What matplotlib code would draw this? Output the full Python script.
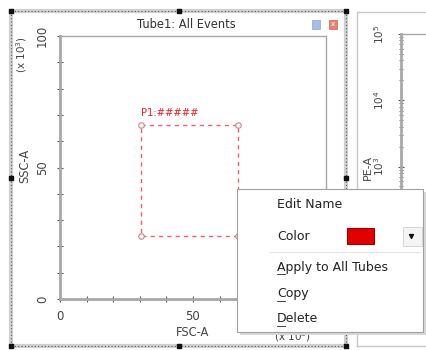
import matplotlib.pyplot as plt
from matplotlib.patches import Rectangle

W, H = 427, 350

# gate P1 (FSC-A, SSC-A in x10^3)
gate_x = [30.5, 66.9, 66.9, 30.5, 30.5]
gate_y = [66.3, 66.3, 23.9, 23.9, 66.3]
gate_name = 'P1:#####'

x_ticks = [0, 10, 20, 30, 40, 50, 60, 70, 80, 90, 100]
x_labels = ['0', '', '', '', '', '50', '', '', '', '', '']
y_ticks = [0, 10, 20, 30, 40, 50, 60, 70, 80, 90, 100]
y_labels = ['0', '', '', '', '', '50', '', '', '', '', '100']

pe_ticks = [1e3, 1e4, 1e5]
pe_labels = ['$10^3$', '$10^4$', '$10^5$']

menu_items = ['Edit Name', 'Color', 'Apply to All Tubes', 'Copy', 'Delete']
menu_rows = [205, 236, 267, 294, 319]
menu_underline = [0, 0, 1, 1, 1]

GRAY = '#a8a8a8'
DARK = '#444444'


def px_axes(fig, l, t, r, b):
    return fig.add_axes([l / W, 1 - b / H, (r - l) / W, (b - t) / H])


fig = plt.figure(figsize=(W / 100, H / 100), dpi=100)

# background layer in pixel coords
bg = fig.add_axes([0, 0, 1, 1], zorder=0)
bg.set_xlim(0, W)
bg.set_ylim(H, 0)
bg.axis('off')

# outer dotted selection frame
for xs, ys in [([11, 346], [11, 11]), ([11, 346], [346, 346]),
               ([11, 11], [11, 346]), ([346, 346], [11, 346])]:
    bg.plot(xs, ys, color='#d0d0d0', lw=3, solid_capstyle='butt')
    bg.plot(xs, ys, color='#555555', lw=0.8, ls=(0, (1, 2)))
hx = [11, 179, 346, 11, 346, 11, 179, 346]
hy = [11, 11, 11, 178, 178, 346, 346, 346]
bg.scatter(hx, hy, marker='s', s=8, color='#111111', zorder=5)

# right panel frame
bg.plot([357, 357, W], [346, 12, 12], color='#c8c8c8', lw=1)
bg.plot([357, W], [346, 346], color='#c8c8c8', lw=1)

bg.text(186, 25, 'Tube1: All Events', fontsize=8.3, ha='center', va='center', color='#333333')
bg.add_patch(Rectangle((312, 20), 8, 9, facecolor='#a9bce4', edgecolor='#8fa3d0', lw=0.5))
bg.add_patch(Rectangle((329, 20), 8, 9, facecolor='#e58470', edgecolor='#d0604c', lw=0.5))
bg.text(333, 24.5, 'x', fontsize=5, color='white', ha='center', va='center')

bg.text(22, 55, '(x 10$^3$)', fontsize=7.5, rotation=90, ha='center', va='center', color=DARK)
bg.text(25, 166, 'SSC-A', fontsize=8.3, rotation=90, ha='center', va='center', color=DARK)
bg.text(193, 333, 'FSC-A', fontsize=8.3, ha='center', va='center', color=DARK)
bg.text(292, 337, '(x 10$^3$)', fontsize=7.5, ha='center', va='center', color=DARK)
bg.text(368, 167, 'PE-A', fontsize=8, rotation=90, ha='center', va='center', color=DARK)

# main dot plot
ax = px_axes(fig, 60, 36, 326, 299)
ax.set_zorder(1)
ax.set_xlim(0, 100)
ax.set_ylim(0, 100)
ax.set_xticks(x_ticks)
ax.set_xticklabels(x_labels)
ax.set_yticks(y_ticks)
ax.set_yticklabels(y_labels, rotation=90, va='center')
ax.tick_params(direction='inout', length=4, width=0.8, color='#555555',
               labelsize=8.5, labelcolor=DARK, pad=6)
for side, sp in ax.spines.items():
    sp.set_color(GRAY)
    sp.set_linewidth(2 if side in ('left', 'bottom') else 1)

ax.plot(gate_x, gate_y, color='#f06070', lw=1, ls=(0, (3, 3)))
ax.scatter(gate_x[:4], gate_y[:4], s=16, facecolor='#f4f4f4', edgecolor='#c09090', lw=0.8, zorder=4)
ax.text(gate_x[0], gate_y[0] + 2.5, gate_name, color='#e8202a', fontsize=7.2, va='bottom', ha='left')

# partial PE-A panel on the right
ax2 = px_axes(fig, 401, 34, 460, 299)
ax2.set_zorder(1)
ax2.set_yscale('log')
ax2.set_ylim(1e1, 1e5)
ax2.set_xticks([])
ax2.set_yticks(pe_ticks)
ax2.set_yticklabels(pe_labels, rotation=90, va='center')
ax2.tick_params(axis='y', which='both', direction='inout', color='#555555',
                labelsize=7.5, labelcolor=DARK, pad=8)
ax2.tick_params(axis='y', which='major', length=5)
ax2.tick_params(axis='y', which='minor', length=3)
for side, sp in ax2.spines.items():
    sp.set_color(GRAY)
    sp.set_linewidth(2 if side == 'left' else 1)

# context menu
mn = fig.add_axes([0, 0, 1, 1], zorder=5)
mn.set_xlim(0, W)
mn.set_ylim(H, 0)
mn.axis('off')
mn.patch.set_alpha(0)
mn.add_patch(Rectangle((240, 192), 186, 143, facecolor='#d8d8d8', edgecolor='none'))
mn.add_patch(Rectangle((237, 189), 186, 143, facecolor='white', edgecolor='#a0a0a0', lw=0.8))
mn.plot([270, 420], [252, 252], color='#e4e4e4', lw=0.8)
for label, yy, ul in zip(menu_items, menu_rows, menu_underline):
    mn.text(277, yy, label, fontsize=9, ha='left', va='center', color='#222222')
    if ul:
        mn.plot([277, 285], [yy + 6.5, yy + 6.5], color='#222222', lw=0.6)
mn.add_patch(Rectangle((347, 228), 27, 16, facecolor='#e00000', edgecolor='#a00000', lw=0.8))
mn.add_patch(Rectangle((403, 227), 19, 19, facecolor='#f4f4f4', edgecolor='#d0d0d0', lw=0.6))
mn.scatter([411], [236], marker='v', s=8, color='#111111')

fig.savefig('out.png', dpi=100)
